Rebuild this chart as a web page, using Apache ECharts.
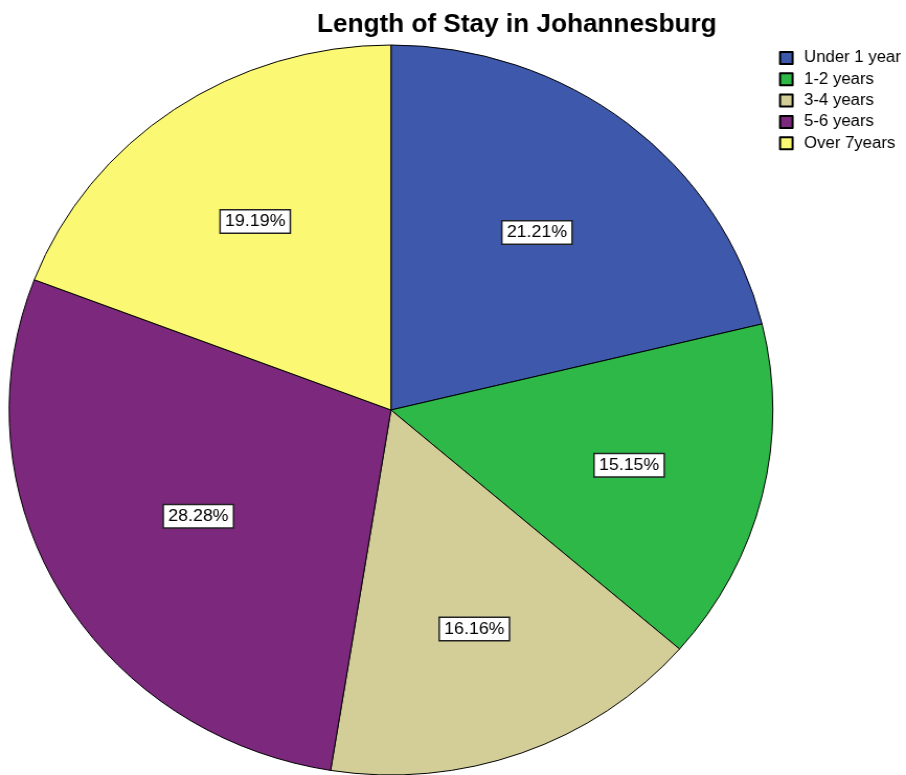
<!DOCTYPE html>
<html>
<head>
<meta charset="utf-8">
<script src="https://cdn.jsdelivr.net/npm/echarts@6/dist/echarts.min.js"></script>
<style>
  html, body { margin: 0; padding: 0; background: #fff; overflow: hidden; }
  #main { width: 866px; height: 775px; transform: scaleX(1.0462); transform-origin: 0 0; }
</style>
</head>
<body>
<div id="main"></div>
<script>
const chartTitle = 'Length of Stay in Johannesburg';
const categories = ['Under 1 year', '1-2 years', '3-4 years', '5-6 years', 'Over 7years'];
const counts = [21, 15, 16, 28, 19];
const colors = ['#3E58AC', '#2EB848', '#D3CE97', '#7C287D', '#FBF873'];

const FONT = '"Liberation Sans", Arial, Helvetica, sans-serif';
const CX = 373.7, CY = 410, R = 365;
const total = counts.reduce((a, b) => a + b, 0);

const chart = echarts.init(document.getElementById('main'), null, { renderer: 'canvas' });

chart.setOption({
  animation: false,
  backgroundColor: '#ffffff',
  title: {
    text: chartTitle,
    left: 494,
    top: 13,
    padding: 0,
    textAlign: 'center',
    textVerticalAlign: 'top',
    textStyle: { fontFamily: FONT, fontSize: 25, fontWeight: 'bold', color: '#000' }
  },
  legend: {
    orient: 'vertical',
    left: 744.6,
    top: 50,
    padding: 0,
    itemGap: 5.3,
    itemWidth: 12,
    itemHeight: 12,
    icon: 'rect',
    data: categories,
    textStyle: { fontFamily: FONT, fontSize: 16, color: '#000', padding: [0, 0, 0, 6] }
  },
  series: [{
    type: 'pie',
    center: [CX, CY],
    radius: [0, R],
    startAngle: 90,
    clockwise: true,
    avoidLabelOverlap: false,
    silent: true,
    itemStyle: { borderColor: '#000', borderWidth: 1 },
    label: {
      show: true,
      position: 'inside',
      formatter: p => (p.value / total * 100).toFixed(2) + '%',
      fontFamily: FONT,
      fontSize: 17,
      color: '#000',
      backgroundColor: '#fff',
      borderColor: '#222',
      borderWidth: 1.5,
      padding: [3, 4, 2, 4]
    },
    labelLine: { show: false },
    labelLayout: function (params) {
      const rect = params.labelRect;
      const mx = rect.x + rect.width / 2 - CX;
      const my = rect.y + rect.height / 2 - CY;
      const len = Math.sqrt(mx * mx + my * my) || 1;
      const a = Math.PI * counts[params.dataIndex] / total;
      const rr = (2 / 3) * R * Math.sin(a) / a;
      return { x: CX + mx / len * rr, y: CY + my / len * rr };
    },
    data: categories.map((c, i) => ({ name: c, value: counts[i], itemStyle: { color: colors[i] } }))
  }]
});
</script>
</body>
</html>
